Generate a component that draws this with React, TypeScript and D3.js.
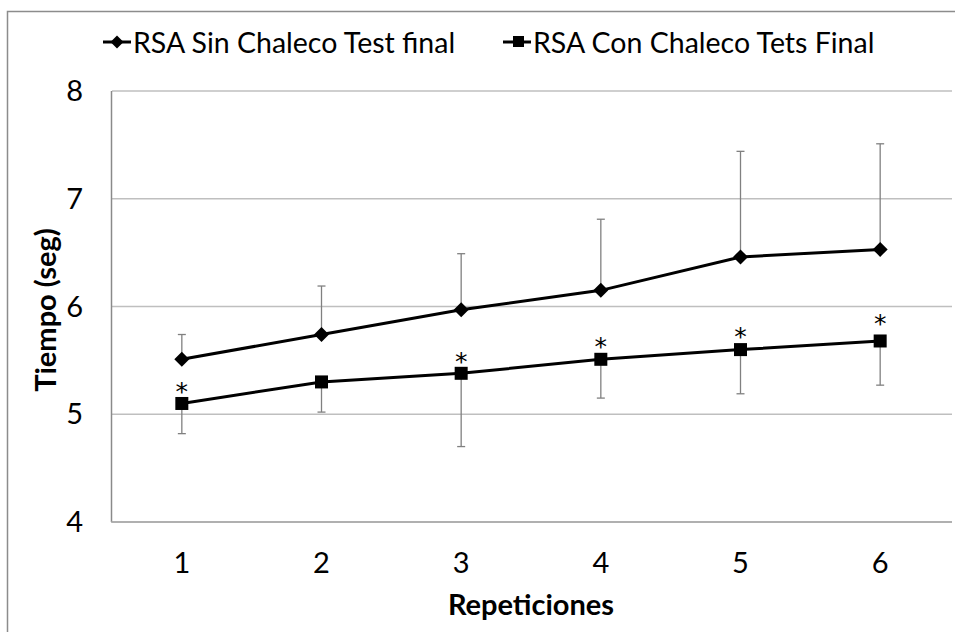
import React from "react";
import * as d3 from "d3";

const categories = ["1", "2", "3", "4", "5", "6"];
const sinChaleco = [5.51, 5.74, 5.97, 6.15, 6.46, 6.53];
const sinChalecoErrUp = [0.23, 0.45, 0.52, 0.66, 0.98, 0.98];
const conChaleco = [5.10, 5.30, 5.38, 5.51, 5.60, 5.68];
const conChalecoErrDown = [0.28, 0.28, 0.68, 0.36, 0.41, 0.41];
const stars = [5.27, null, 5.55, 5.69, 5.78, 5.90];
const yTicks = [4, 5, 6, 7, 8];
const seriesNames = ["RSA Sin Chaleco Test final", "RSA Con Chaleco Tets Final"];

const W = 955;
const H = 632;
const FONT = "Lato, 'Open Sans', sans-serif";

export default function App() {
  const x = d3.scaleBand<string>().domain(categories).range([112, 950]).padding(0);
  const cx = (c: string) => (x(c) ?? 0) + x.bandwidth() / 2;
  const y = d3.scaleLinear().domain([4, 8]).range([522, 91]);
  const line = d3
    .line<number>()
    .x((_, i) => cx(categories[i]))
    .y((d) => y(d));
  const diamond = (px: number, py: number, r: number) =>
    `M${px},${py - r}L${px + r},${py}L${px},${py + r}L${px - r},${py}Z`;
  const errColor = "#808080";
  const cap = 4;

  return (
    <svg width={W} height={H} style={{ position: "absolute", left: 0, top: 0, background: "#fff" }}>
      <rect x={0} y={0} width={W} height={H} fill="#fff" />
      {/* outer chart border */}
      <rect x={7.5} y={11.5} width={W + 20} height={H + 20} fill="none" stroke="#8c8c8c" strokeWidth={1.5} />
      {/* gridlines */}
      {yTicks.map((t) => (
        <line key={t} x1={112} x2={952} y1={y(t)} y2={y(t)} stroke="#bfbfbf" strokeWidth={1.5} />
      ))}
      {/* axes */}
      <line x1={111.5} x2={111.5} y1={y(8)} y2={y(4)} stroke="#8a8a8a" strokeWidth={1.5} />
      <line x1={111} x2={952} y1={y(4)} y2={y(4)} stroke="#a6a6a6" strokeWidth={1.5} />
      {/* y tick labels */}
      {yTicks.map((t) => (
        <text key={t} x={83} y={y(t) + 10} textAnchor="end" fontFamily={FONT} fontSize={29} fill="#000">
          {t}
        </text>
      ))}
      {/* x tick labels */}
      {categories.map((c) => (
        <text key={c} x={cx(c)} y={573} textAnchor="middle" fontFamily={FONT} fontSize={29} fill="#000">
          {c}
        </text>
      ))}
      {/* axis titles */}
      <text x={531} y={615} textAnchor="middle" fontFamily={FONT} fontWeight="bold" fontSize={29} fill="#000">
        Repeticiones
      </text>
      <text
        transform={`translate(56,${310}) rotate(-90)`}
        textAnchor="middle"
        fontFamily={FONT}
        fontWeight="bold"
        fontSize={29}
        fill="#000"
      >
        Tiempo (seg)
      </text>
      {/* error bars */}
      {sinChaleco.map((v, i) => {
        const px = cx(categories[i]);
        const top = y(v + sinChalecoErrUp[i]);
        return (
          <g key={"es" + i} stroke={errColor} strokeWidth={1.3}>
            <line x1={px} x2={px} y1={y(v)} y2={top} />
            <line x1={px - cap} x2={px + cap} y1={top} y2={top} />
          </g>
        );
      })}
      {conChaleco.map((v, i) => {
        const px = cx(categories[i]);
        const bot = y(v - conChalecoErrDown[i]);
        return (
          <g key={"ec" + i} stroke={errColor} strokeWidth={1.3}>
            <line x1={px} x2={px} y1={y(v)} y2={bot} />
            <line x1={px - cap} x2={px + cap} y1={bot} y2={bot} />
          </g>
        );
      })}
      {/* lines */}
      <path d={line(sinChaleco) ?? ""} fill="none" stroke="#000" strokeWidth={3} />
      <path d={line(conChaleco) ?? ""} fill="none" stroke="#000" strokeWidth={3} />
      {/* markers */}
      {sinChaleco.map((v, i) => (
        <path key={"ds" + i} d={diamond(cx(categories[i]), y(v), 7.5)} fill="#000" />
      ))}
      {conChaleco.map((v, i) => (
        <rect key={"sq" + i} x={cx(categories[i]) - 6.5} y={y(v) - 6.5} width={13} height={13} fill="#000" />
      ))}
      {/* significance stars */}
      {stars.map((s, i) =>
        s == null ? null : (
          <text key={"st" + i} x={cx(categories[i])} y={y(s) + 15} textAnchor="middle" fontFamily="'DejaVu Sans', sans-serif" fontSize={25} fill="#000">
            *
          </text>
        )
      )}
      {/* legend */}
      <g>
        <line x1={103} x2={131} y1={42} y2={42} stroke="#000" strokeWidth={3} />
        <path d={diamond(117, 42, 6.5)} fill="#000" />
        <text x={133} y={53} fontFamily={FONT} fontSize={28.5} fill="#000">
          {seriesNames[0]}
        </text>
        <line x1={503} x2={531} y1={42} y2={42} stroke="#000" strokeWidth={3} />
        <rect x={513} y={36} width={11} height={11} fill="#000" />
        <text x={533} y={53} fontFamily={FONT} fontSize={28.5} fill="#000">
          {seriesNames[1]}
        </text>
      </g>
    </svg>
  );
}
